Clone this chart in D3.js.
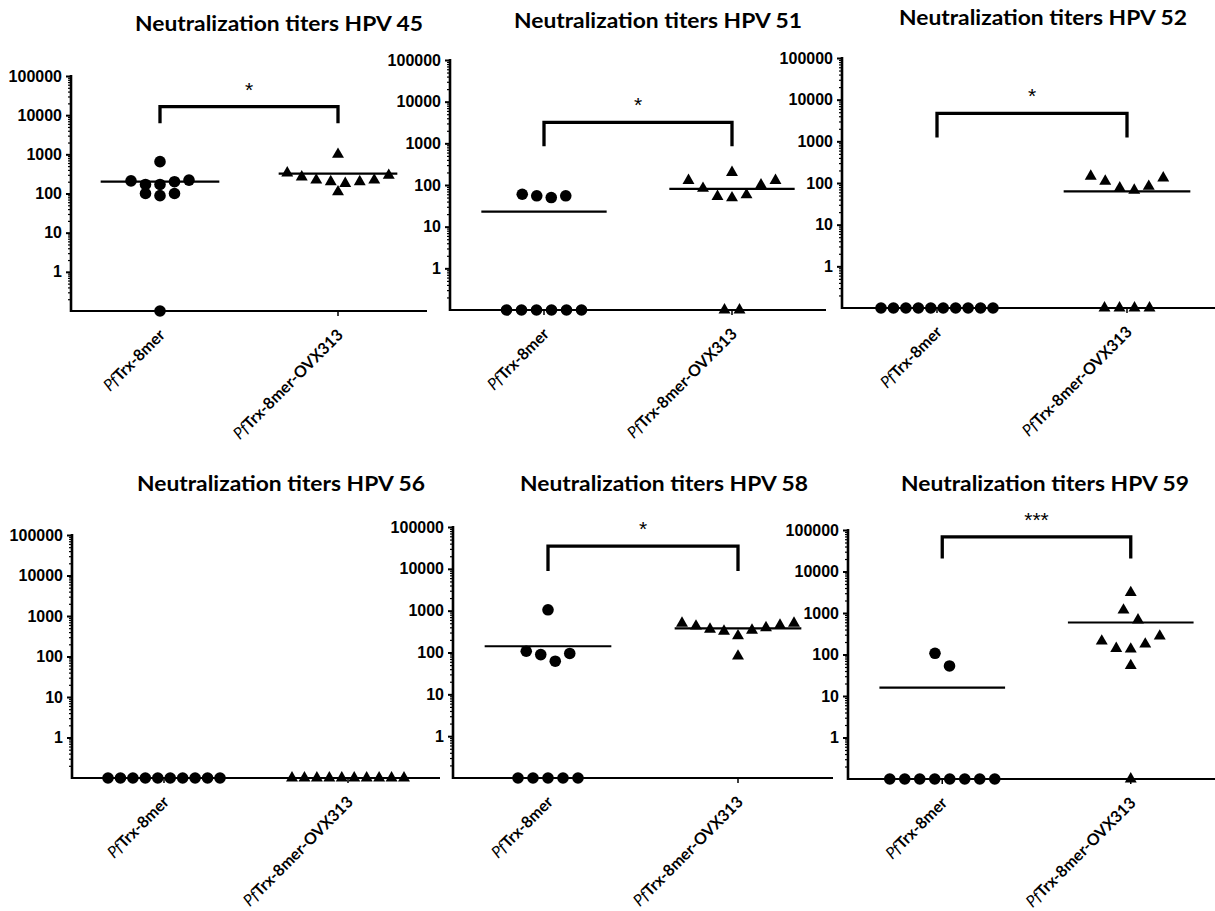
<!DOCTYPE html>
<html>
<head>
<meta charset="utf-8">
<script src="https://cdn.jsdelivr.net/npm/d3@7"></script>
<style>
  body { margin: 0; background: #fff; }
  .title { font-family: Lato, "Open Sans", sans-serif; font-weight: bold; font-size: 21px; }
  .ytick text { font-family: "Liberation Sans", Arial, sans-serif; font-weight: bold; font-size: 16px; fill: #000; }
  .xlab { font-family: Lato, "Open Sans", sans-serif; font-size: 16px; }
  .star { font-family: "Liberation Sans", Arial, sans-serif; font-size: 21px; }
</style>
</head>
<body>
<svg id="chart" width="1215" height="911"></svg>
<script>
// Dot plots of neutralization titers, two groups of mice per HPV type
// a titer of 0 means below detection, plotted on the bottom of the axis

var groups = ["PfTrx-8mer", "PfTrx-8mer-OVX313"];
var titles = ["Neutralization titers HPV 45", "Neutralization titers HPV 51", "Neutralization titers HPV 52",
              "Neutralization titers HPV 56", "Neutralization titers HPV 58", "Neutralization titers HPV 59"];
var yTicks = [1, 10, 100, 1000, 10000, 100000];

var hpv45_8mer = [650, 220, 210, 200, 170, 170, 100, 100, 88, 0];
var hpv45_ovx  = [1000, 335, 290, 265, 220, 220, 200, 200, 180, 110];
var hpv51_8mer = [60, 55, 55, 50, 0, 0, 0, 0, 0, 0];
var hpv51_ovx  = [200, 128, 128, 100, 83, 58, 53, 49, 0, 0];
var hpv52_8mer = [0, 0, 0, 0, 0, 0, 0, 0, 0, 0];
var hpv52_ovx  = [145, 132, 110, 83, 76, 67, 0, 0, 0, 0];
var hpv56_8mer = [0, 0, 0, 0, 0, 0, 0, 0, 0, 0];
var hpv56_ovx  = [0, 0, 0, 0, 0, 0, 0, 0, 0, 0];
var hpv58_8mer = [1050, 107, 95, 89, 62, 0, 0, 0, 0, 0];
var hpv58_ovx  = [500, 500, 450, 427, 390, 360, 340, 323, 250, 82];
var hpv59_8mer = [107, 53, 0, 0, 0, 0, 0, 0, 0, 0];
var hpv59_ovx  = [3100, 1170, 680, 277, 210, 178, 140, 135, 54, 0];

var values = [[hpv45_8mer, hpv45_ovx], [hpv51_8mer, hpv51_ovx], [hpv52_8mer, hpv52_ovx],
              [hpv56_8mer, hpv56_ovx], [hpv58_8mer, hpv58_ovx], [hpv59_8mer, hpv59_ovx]];

// horizontal line per group
var centers = [[200, 320], [23, 81], [0, 63], [0, 0], [141, 377], [16, 590]];

// significance brackets (titer units)
var signif     = ["*", "*", "*", "", "*", "***"];
var bracketTop = [16600, 3200, 4700, null, 35000, 68000];
var bracketLeg = [6200, 850, 1240, null, 8900, 20500];

var svg = d3.select("#chart");

// panel frames: y axis x, top (100000), bottom (x axis), right end of x axis, title
var layout = [
  {left: 71,  top: 76,  bottom: 311, right: 427,  tx: 279,  ty: 31},
  {left: 450, top: 60,  bottom: 310, right: 826,  tx: 658,  ty: 28},
  {left: 842, top: 58,  bottom: 308, right: 1222, tx: 1043, ty: 25},
  {left: 72,  top: 535, bottom: 778, right: 440,  tx: 281,  ty: 491},
  {left: 453, top: 527, bottom: 778, right: 833,  tx: 664,  ty: 491},
  {left: 848, top: 530, bottom: 779, right: 1225, tx: 1045, ty: 491}
];

var yMin = 0.1;

// Prism-like scatter: points close in y go in one row, lowest value in the middle
function swarm(vals, cx, y) {
  var pts = vals.map(function(v) { return {v: v, y: y(v > 0 ? v : yMin)}; });
  pts.sort(function(a, b) { return a.y - b.y; });

  var rows = [];
  pts.forEach(function(p) {
    var last = rows[rows.length - 1];
    if (last && p.y - last[last.length - 1].y < 8) last.push(p);
    else rows.push([p]);
  });

  // two lone points sitting close together share a row
  for (var r = rows.length - 1; r > 0; r--) {
    if (rows[r].length === 1 && rows[r - 1].length === 1 && rows[r][0].y - rows[r - 1][0].y < 14) {
      rows[r - 1] = rows[r - 1].concat(rows[r]);
      rows.splice(r, 1);
    }
  }

  rows.forEach(function(row) {
    var n = row.length;
    var sp = n > 1 ? Math.min(row[0].v === 0 ? 15 : 14.5, 112 / (n - 1)) : 0;
    var slots = d3.range(n).map(function(k) { return (k - (n - 1) / 2) * sp; });
    slots.sort(function(a, b) {
      return Math.abs(a) - Math.abs(b) || (n % 2 ? a - b : b - a);
    });
    row.slice().sort(function(a, b) { return a.v - b.v; })
      .forEach(function(p, k) { p.x = cx + slots[k]; });
  });
  return pts;
}

function drawPanel(i) {
  var L = layout[i];
  var g = svg.append("g");

  var y = d3.scaleLog().domain([yMin, 100000]).range([L.bottom, L.top]);
  var x = d3.scalePoint().domain(groups).range([L.left, L.right]).padding(0.5);

  // Title
  g.append("text")
    .attr("class", "title")
    .attr("x", L.tx)
    .attr("y", L.ty)
    .attr("text-anchor", "middle")
    .attr("textLength", 288)
    .attr("lengthAdjust", "spacingAndGlyphs")
    .text(titles[i]);

  // Y axis: minor ticks, then labelled decades
  var minor = [];
  for (var e = -1; e < 5; e++) {
    for (var k = 2; k < 10; k++) minor.push(+(k * Math.pow(10, e)).toPrecision(3));
  }

  g.append("g")
    .attr("transform", "translate(" + L.left + ",0)")
    .call(d3.axisLeft(y).tickValues(minor).tickSize(3).tickFormat(""))
    .call(function(a) {
      a.select(".domain").remove();
      a.selectAll("line").attr("stroke-width", 1.2);
    });

  g.append("g")
    .attr("class", "ytick")
    .attr("transform", "translate(" + L.left + ",0)")
    .call(d3.axisLeft(y).tickValues(yTicks).tickSize(5).tickPadding(4).tickFormat(d3.format("d")))
    .call(function(a) {
      a.select(".domain").remove();
      a.selectAll("line").attr("stroke-width", 2);
    });

  g.append("line")
    .attr("x1", L.left).attr("x2", L.left)
    .attr("y1", L.top - 1).attr("y2", L.bottom + 1)
    .attr("stroke", "#000").attr("stroke-width", 2.6);

  // X axis
  g.append("line")
    .attr("x1", L.left).attr("x2", L.right)
    .attr("y1", L.bottom).attr("y2", L.bottom)
    .attr("stroke", "#000").attr("stroke-width", 2.2);

  groups.forEach(function(name) {
    g.append("line")
      .attr("x1", x(name)).attr("x2", x(name))
      .attr("y1", L.bottom).attr("y2", L.bottom + 5)
      .attr("stroke", "#000").attr("stroke-width", 1.5);

    var lab = g.append("text")
      .attr("class", "xlab")
      .attr("text-anchor", "end")
      .attr("transform", "translate(" + (x(name) + 6) + "," + (L.bottom + 25) + ") rotate(-45)");
    lab.append("tspan").attr("font-style", "italic").text("Pf");
    lab.append("tspan").attr("font-weight", "bold").text(name.slice(2));
  });

  var half = x.step() / 3;

  groups.forEach(function(name, gi) {
    var cx = x(name);

    // center line
    var c = centers[i][gi];
    g.append("line")
      .attr("x1", cx - half).attr("x2", cx + half)
      .attr("y1", y(c > 0 ? c : yMin)).attr("y2", y(c > 0 ? c : yMin))
      .attr("stroke", "#000").attr("stroke-width", 2.2);

    var pts = swarm(values[i][gi], cx, y);

    if (gi === 0) {
      g.selectAll(".dot" + gi)
        .data(pts)
        .enter().append("circle")
        .attr("cx", function(d) { return d.x; })
        .attr("cy", function(d) { return d.y; })
        .attr("r", 5.8)
        .attr("fill", "#000");
    } else {
      g.selectAll(".tri" + gi)
        .data(pts)
        .enter().append("path")
        .attr("d", d3.symbol().type(d3.symbolTriangle).size(62))
        .attr("transform", function(d) { return "translate(" + d.x + "," + d.y + ")"; })
        .attr("fill", "#000");
    }
  });

  // Significance bracket
  if (signif[i]) {
    var x1 = x(groups[0]), x2 = x(groups[1]);
    var yt = y(bracketTop[i]), yl = y(bracketLeg[i]);
    g.append("path")
      .attr("d", "M" + x1 + "," + yl + "V" + yt + "H" + x2 + "V" + yl)
      .attr("fill", "none")
      .attr("stroke", "#000")
      .attr("stroke-width", 3.3);

    g.append("text")
      .attr("class", "star")
      .attr("x", (x1 + x2) / 2)
      .attr("y", yt - 10)
      .attr("text-anchor", "middle")
      .text(signif[i]);
  }
}

for (var i = 0; i < layout.length; i++) drawPanel(i);
</script>
</body>
</html>
